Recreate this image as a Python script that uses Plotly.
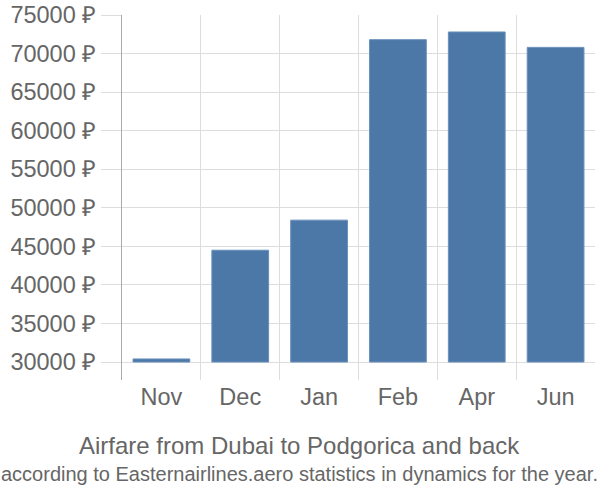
import plotly.graph_objects as go

months = ["Nov", "Dec", "Jan", "Feb", "Apr", "Jun"]
prices = [30400, 44500, 48400, 71800, 72800, 70800]
tick_values = [30000, 35000, 40000, 45000, 50000, 55000, 60000, 65000, 70000, 75000]
tick_labels = [f"{v} ₽" for v in tick_values]
title_text = "Airfare from Dubai to Podgorica and back"
subtitle_text = "according to Easternairlines.aero statistics in dynamics for the year."

fig = go.Figure(
    go.Bar(
        x=months,
        y=[p - 30000 for p in prices],
        base=30000,
        width=0.72,
        marker=dict(color="#4c78a8", line=dict(color="#6a90ba", width=1)),
        hoverinfo="skip",
    )
)

fig.update_layout(
    width=600,
    height=500,
    margin=dict(l=122, r=5, t=15, b=120),
    plot_bgcolor="white",
    paper_bgcolor="white",
    font=dict(family="Liberation Sans, Arial, sans-serif", color="#666"),
    showlegend=False,
)

fig.update_yaxes(
    range=[27670, 75000],
    tickvals=tick_values,
    ticktext=tick_labels,
    tickfont=dict(size=23.5, color="#666"),
    showgrid=True,
    gridcolor="#dddddd",
    gridwidth=1,
    ticks="outside",
    ticklen=20,
    tickcolor="#dddddd",
    showline=True,
    linecolor="#aaaaaa",
    linewidth=1,
    zeroline=False,
    automargin=False,
)

fig.update_xaxes(
    tickson="boundaries",
    showgrid=True,
    gridcolor="#dddddd",
    gridwidth=1,
    ticks="",
    tickfont=dict(size=23.5, color="#666"),
    showline=False,
    zeroline=False,
    automargin=False,
)

fig.add_annotation(
    text=title_text, xref="paper", yref="paper", x=0.3763, y=-0.1808, xanchor="center",
    yanchor="middle", showarrow=False, font=dict(size=24, color="#666"),
)
fig.add_annotation(
    text=subtitle_text, xref="paper", yref="paper", x=0.3763, y=-0.2575, xanchor="center",
    yanchor="middle", showarrow=False, font=dict(size=20, color="#666"),
)

fig.write_html(
    "out.html",
    config={"displayModeBar": False},
    post_script="document.body.style.margin='0';document.body.style.padding='0';",
)
